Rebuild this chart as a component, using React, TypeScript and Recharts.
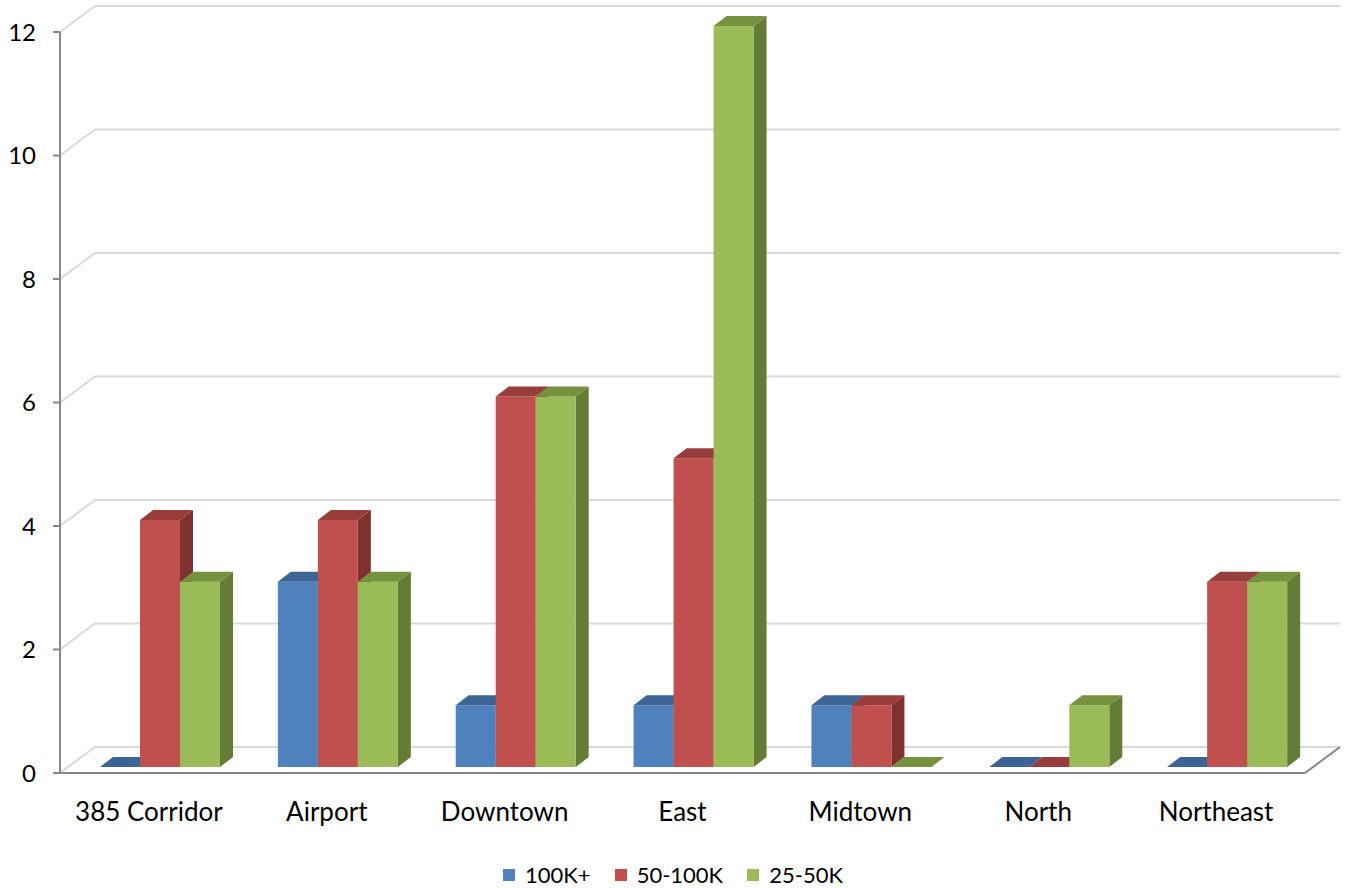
import { BarChart, Bar, XAxis, YAxis, CartesianGrid } from "recharts";

const categories = ["385 Corridor", "Airport", "Downtown", "East", "Midtown", "North", "Northeast"];
const high = [0, 3, 1, 1, 1, 0, 0];
const mid = [4, 4, 6, 5, 1, 0, 3];
const low = [3, 3, 6, 12, 0, 1, 3];
const yTicks = [0, 2, 4, 6, 8, 10, 12];

const series = [
  { key: "high", name: "100K+", front: "#4f81bd", top: "#3c6596", side: "#385d8a" },
  { key: "mid", name: "50-100K", front: "#c0504d", top: "#973e3c", side: "#7f312f" },
  { key: "low", name: "25-50K", front: "#9bbb59", top: "#77923f", side: "#647c36" },
];

const data = categories.map((c, i) => ({ name: c, high: high[i], mid: mid[i], low: low[i] }));

const FONT = "Lato, 'Noto Sans', sans-serif";
const AXIS = "#868686";
const GRID = "#d9d9d9";
// depth of the back wall and of the bars
const WALL_DX = 35;
const WALL_DY = -26;
const BAR_DX = 13;
const BAR_DY = -10;
const SHIFT_X = 11;
const SHIFT_Y = -6;

const make3D = (s: typeof series[number]) => (props: any) => {
  const { x, y, width, height } = props;
  const x0 = x + SHIFT_X;
  const y0 = y + SHIFT_Y;
  const h = Math.max(height, 0);
  const top = `M${x0},${y0} L${x0 + BAR_DX},${y0 + BAR_DY} L${x0 + width + BAR_DX},${y0 + BAR_DY} L${x0 + width},${y0} Z`;
  const side = `M${x0 + width},${y0} L${x0 + width + BAR_DX},${y0 + BAR_DY} L${x0 + width + BAR_DX},${y0 + h + BAR_DY} L${x0 + width},${y0 + h} Z`;
  return (
    <g>
      {h > 0 && <path d={side} fill={s.side} />}
      {h > 0 && <rect x={x0} y={y0} width={width} height={h} fill={s.front} />}
      <path d={top} fill={s.top} />
    </g>
  );
};

const gridLine = (p: any) => {
  const { x1, y1, x2, index } = p;
  const bottom = p.y + p.height;
  return (
    <g key={`g-${index}`}>
      <path
        d={`M${x1},${y1} L${x1 + WALL_DX},${y1 + WALL_DY} L${x2 + WALL_DX},${y1 + WALL_DY}`}
        stroke={GRID}
        strokeWidth={2}
        fill="none"
      />
      {Math.abs(y1 - bottom) < 1 && (
        <line x1={x2} y1={y1} x2={x2 + WALL_DX} y2={y1 + WALL_DY} stroke={AXIS} strokeWidth={2} />
      )}
    </g>
  );
};

const XTick = (props: any) => {
  const { x, y, payload } = props;
  return (
    <text x={x} y={y + 39} dy="0.35em" textAnchor="middle" fontFamily={FONT} fontSize={26} fill="#000">
      {payload.value}
    </text>
  );
};

export default function App() {
  return (
    <div style={{ position: "fixed", left: 0, top: 0, width: 1346, height: 888, background: "#fff" }}>
      <BarChart
        width={1346}
        height={888}
        data={data}
        margin={{ top: 32, right: 41, bottom: 0, left: 0 }}
        barCategoryGap={29}
        barGap={0}
      >
        <CartesianGrid vertical={false} horizontal={gridLine} />
        <XAxis
          dataKey="name"
          height={115}
          tickSize={0}
          tickMargin={0}
          tick={<XTick />}
          axisLine={{ stroke: AXIS, strokeWidth: 2 }}
          tickLine={false}
          interval={0}
        />
        <YAxis
          width={60}
          domain={[0, 12]}
          ticks={yTicks}
          tickSize={7}
          tickMargin={17}
          axisLine={{ stroke: AXIS, strokeWidth: 2 }}
          tickLine={{ stroke: AXIS, strokeWidth: 2 }}
          tick={{ fill: "#000", fontSize: 24, fontFamily: FONT }}
        />
        {series.map((s) => (
          <Bar key={s.key} dataKey={s.key} name={s.name} shape={make3D(s)} isAnimationActive={false} />
        ))}
      </BarChart>
      <div
        style={{
          position: "absolute",
          top: 862,
          left: 0,
          width: 1346,
          display: "flex",
          justifyContent: "center",
          gap: 24,
          fontFamily: FONT,
          fontSize: 22,
          lineHeight: "26px",
          boxSizing: "border-box",
        }}
      >
        {series.map((s) => (
          <div key={s.key} style={{ display: "flex", alignItems: "center" }}>
            <span style={{ width: 12, height: 12, background: s.front, marginRight: 10, display: "inline-block" }} />
            <span>{s.name}</span>
          </div>
        ))}
      </div>
    </div>
  );
}
